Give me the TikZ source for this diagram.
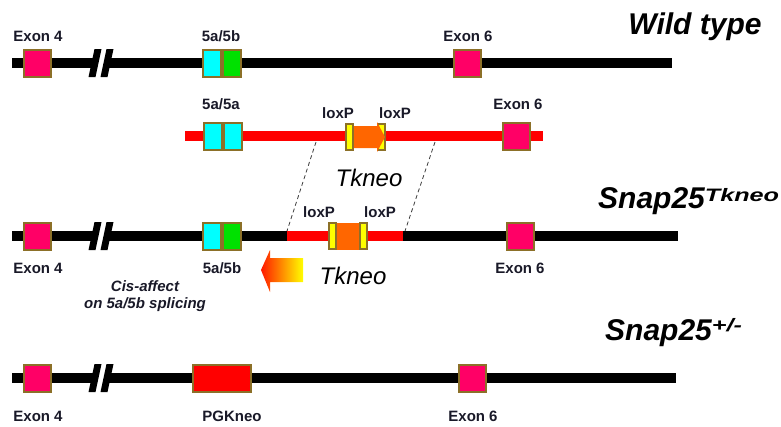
\documentclass[tikz,border=0pt]{standalone}
\usepackage{fontspec}
\setmainfont{Liberation Sans}

\definecolor{exonfill}{RGB}{255,0,102}
\definecolor{boxline}{RGB}{140,112,40}
\definecolor{cyanfill}{RGB}{0,255,255}
\definecolor{greenfill}{RGB}{0,225,0}
\definecolor{vecred}{RGB}{255,0,0}
\definecolor{tkorange}{RGB}{255,102,0}
\definecolor{loxyellow}{RGB}{255,255,0}
\definecolor{labelink}{RGB}{25,25,40}
\definecolor{dashgray}{RGB}{60,60,60}

\tikzset{
  backbone/.style={line width=10pt, draw=black},
  vector/.style={line width=10pt, draw=vecred},
  exonbox/.style={draw=boxline, line width=2pt, fill=exonfill,
    minimum width=27pt, minimum height=27pt, inner sep=0pt},
  halfbox/.style={draw=boxline, line width=2pt,
    minimum width=18pt, minimum height=27pt, inner sep=0pt},
  neobox/.style={draw=boxline, line width=2pt, fill=vecred,
    minimum width=58pt, minimum height=27pt, inner sep=0pt},
  loxbox/.style={draw=boxline, line width=2pt, fill=loxyellow,
    minimum width=7pt, minimum height=26pt, inner sep=0pt},
  lbl/.style={font=\fontsize{15}{15}\selectfont\bfseries, text=labelink, inner sep=0pt},
  title/.style={font=\fontsize{30}{30}\selectfont\bfseries\itshape, inner sep=0pt},
  note/.style={font=\fontsize{15}{17}\selectfont\bfseries\itshape, text=labelink,
    align=center, inner sep=0pt},
  cassette/.style={font=\fontsize{24}{24}\selectfont\itshape, inner sep=0pt},
  homology/.style={draw=dashgray, line width=0.8pt, dash pattern=on 4pt off 3pt},
  % the "//" break mark laid over a backbone line
  linebreak/.pic={
    \fill[white] (-4.5,10) -- (1.5,10) -- (6.5,-10) -- (0.5,-10) -- cycle;
    \fill[black] (-11.5,14) -- (-4.5,14) -- (1.5,-14) -- (-5.5,-14) -- cycle;
    \fill[black] (0.5,14) -- (7.5,14) -- (13.5,-14) -- (6.5,-14) -- cycle;
  }
}

\newcommand\supwide[2]{\raisebox{#1}{\fontsize{18}{18}\selectfont\itshape\scalebox{1.4}[1]{#2}}}

\begin{document}
\begin{tikzpicture}[x=1pt,y=-1pt]
\useasboundingbox (0,0) rectangle (781,426);

% ---------- wild-type locus ----------
\coordinate (w-start) at (12,63);
\coordinate (w-end) at (672,63);
\draw[backbone] (w-start) -- (w-end);
\pic at (100,63) {linebreak};
\node[exonbox] (w-e4) at (37.5,63) {};
\node[halfbox, fill=cyanfill] (w-5a) at (212,63) {};
\node[halfbox, fill=greenfill] (w-5b) at (232,63) {};
\node[exonbox] (w-e6) at (467,63) {};
\node[lbl] (w-e4-l) at (38,36) {Exon 4};
\node[lbl] (w-5-l) at (221,36) {5a/5b};
\node[lbl] (w-e6-l) at (468,36) {Exon 6};
\node[title, anchor=base] (w-title) at (695,34) {Wild type};

% ---------- targeting vector ----------
\coordinate (v-start) at (185,136);
\coordinate (v-end) at (543,136);
\draw[vector] (v-start) -- (v-end);
\node[halfbox, fill=cyanfill] (v-5a1) at (213,136) {};
\node[halfbox, fill=cyanfill] (v-5a2) at (233,136) {};
\node[loxbox] (v-lox1) at (349.5,137) {};
\node[loxbox] (v-lox2) at (381.5,137) {};
\fill[tkorange] (354,126) -- (377,126) -- (377,122) -- (385,137) -- (377,152)
  -- (377,148) -- (354,148) -- cycle;
\node[exonbox] (v-e6) at (516.5,136) {};
\node[lbl] (v-5-l) at (221,104) {5a/5a};
\node[lbl] (v-lox1-l) at (338,113) {loxP};
\node[lbl] (v-lox2-l) at (395,113) {loxP};
\node[lbl] (v-e6-l) at (518,104) {Exon 6};
\node[cassette] (v-tk) at (369,178) {Tkneo};

% homology arms
\coordinate (h1a) at (316,142);
\coordinate (h2a) at (435,142);
\coordinate (h1b) at (287,231);
\coordinate (h2b) at (405,231);
\draw[homology] (h1a) -- (h1b);
\draw[homology] (h2a) -- (h2b);

% ---------- Snap25 Tkneo allele ----------
\coordinate (t-start) at (12,236);
\coordinate (t-end) at (678,236);
\coordinate (t-ins1) at (287,236);
\coordinate (t-ins2) at (403,236);
\draw[backbone] (t-start) -- (t-end);
\draw[vector] (t-ins1) -- (t-ins2);
\pic at (100,236) {linebreak};
\node[exonbox] (t-e4) at (37.5,236) {};
\node[halfbox, fill=cyanfill] (t-5a) at (212,236) {};
\node[halfbox, fill=greenfill] (t-5b) at (232,236) {};
\node[loxbox] (t-lox1) at (332.5,236) {};
\node[loxbox] (t-lox2) at (363.5,236) {};
\fill[tkorange] (337,223) rectangle (359,250);
\node[exonbox] (t-e6) at (520,236) {};
\node[lbl] (t-e4-l) at (38,268) {Exon 4};
\node[lbl] (t-5-l) at (222,268) {5a/5b};
\node[lbl] (t-e6-l) at (520,268) {Exon 6};
\node[lbl] (t-lox1-l) at (319,212) {loxP};
\node[lbl] (t-lox2-l) at (380,212) {loxP};
\node[title, anchor=base west] (t-title) at (598,208) {Snap25\supwide{7pt}{Tkneo}};

% read-through arrow and its note
\shade[left color=red!80!orange, right color=loxyellow]
  (261,270) -- (270,250) -- (270,258) -- (303,258) -- (303,282) -- (270,282)
  -- (270,292) -- cycle;
\node[cassette] (t-tk) at (353,276) {Tkneo};
\node[note] (t-note) at (145,296) {Cis-affect\\on 5a/5b splicing};

% ---------- Snap25 +/- allele ----------
\coordinate (n-start) at (12,378);
\coordinate (n-end) at (676,378);
\draw[backbone] (n-start) -- (n-end);
\pic at (100,378) {linebreak};
\node[exonbox] (n-e4) at (37.5,378) {};
\node[neobox] (n-pgk) at (222,378) {};
\node[exonbox] (n-e6) at (472.5,378) {};
\node[lbl] (n-e4-l) at (38,416) {Exon 4};
\node[lbl] (n-pgk-l) at (232,416) {PGKneo};
\node[lbl] (n-e6-l) at (473,416) {Exon 6};
\node[title, anchor=base west] (n-title) at (605,340) {Snap25\supwide{9pt}{+/-}};
\end{tikzpicture}
\end{document}
